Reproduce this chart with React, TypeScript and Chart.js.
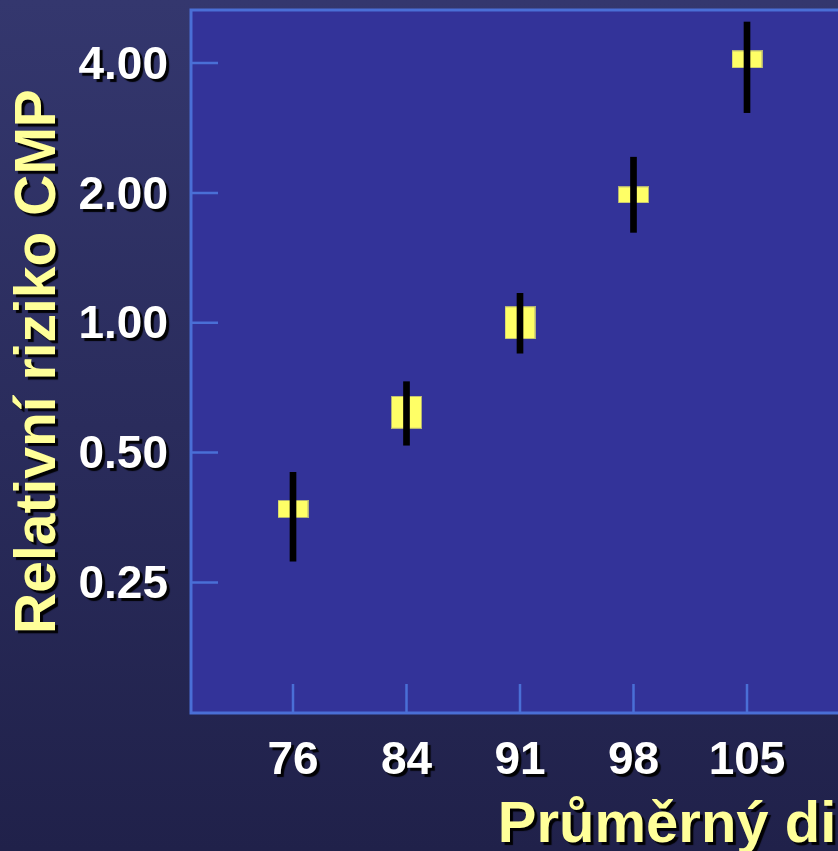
import React, { useEffect, useRef } from 'react';
import { Chart, registerables } from 'chart.js';

Chart.register(...registerables);

// ---- data ----
const categories = ['76', '84', '91', '98', '105'];
const relativeRisk = [0.37, 0.62, 1.0, 1.98, 4.08];
const ciLower = [0.28, 0.52, 0.85, 1.62, 3.07];
const ciUpper = [0.45, 0.73, 1.17, 2.42, 4.98];
const yTickValues = [0.25, 0.5, 1, 2, 4];
const yTickLabels = ['0.25', '0.50', '1.00', '2.00', '4.00'];
const yTitle = 'Relativní riziko CMP';
const xTitle = 'Průměrný diastolický TK (mmHg)';

// ---- styling / layout ----
const FONT = '"Liberation Sans", Arial, Helvetica, sans-serif';
const H = 851;
const PLOT_LEFT = 191;
const PLOT_TOP = 10;
const PLOT_BOTTOM = 713;
const FIRST_SLOT_OFFSET = 102; // px from plot left to first category
const SLOT = 113.5; // px per category step
const X_TITLE_START = 498;
const X_TITLE_SIZE = 58;
const Y_TITLE_SIZE = 57;
const TICK_SIZE = 46;
const boxHeights = [18, 33, 33, 17, 18];
const BOX_WIDTH = 31;
const Y_MIN = 0.1245;
const Y_MAX = 5.31;

function makeBox(h: number): HTMLCanvasElement {
  const c = document.createElement('canvas');
  c.width = BOX_WIDTH;
  c.height = h;
  const g = c.getContext('2d')!;
  g.fillStyle = '#FFFF66';
  g.fillRect(0, 0, BOX_WIDTH, h);
  g.strokeStyle = 'rgba(170,170,120,0.9)';
  g.lineWidth = 1;
  g.strokeRect(0.5, 0.5, BOX_WIDTH - 1, h - 1);
  return c;
}

const framePlugin = {
  id: 'frame',
  beforeDraw(chart: any) {
    const { ctx, chartArea: a } = chart;
    ctx.save();
    ctx.fillStyle = '#333399';
    ctx.fillRect(a.left, a.top, a.right - a.left, a.bottom - a.top);
    ctx.restore();
    ctx.save();
    ctx.shadowColor = 'rgba(0,0,0,0.95)';
    ctx.shadowOffsetX = 3;
    ctx.shadowOffsetY = 3;
    ctx.shadowBlur = 1;
  },
  beforeDatasetsDraw(chart: any) {
    const { ctx, chartArea: a, scales } = chart;
    ctx.restore();
    ctx.save();
    ctx.strokeStyle = '#4a6fd6';
    ctx.lineWidth = 3;
    ctx.beginPath();
    ctx.moveTo(a.right, a.top);
    ctx.lineTo(a.left, a.top);
    ctx.lineTo(a.left, a.bottom);
    ctx.lineTo(a.right, a.bottom);
    ctx.stroke();
    ctx.lineWidth = 2.5;
    ctx.beginPath();
    scales.y.ticks.forEach((t: any) => {
      const y = scales.y.getPixelForValue(t.value);
      ctx.moveTo(a.left, y);
      ctx.lineTo(a.left + 27, y);
    });
    scales.x.ticks.forEach((t: any) => {
      const x = scales.x.getPixelForValue(t.value);
      ctx.moveTo(x, a.bottom);
      ctx.lineTo(x, a.bottom - 29);
    });
    ctx.stroke();
    ctx.restore();
  },
};

export default function App() {
  const ref = useRef<HTMLCanvasElement>(null);

  useEffect(() => {
    const canvas = ref.current!;
    const mctx = document.createElement('canvas').getContext('2d')!;
    mctx.font = `bold ${X_TITLE_SIZE}px ${FONT}`;
    const tw = mctx.measureText(xTitle).width;
    const plotRight = Math.round(2 * (X_TITLE_START + tw / 2) - PLOT_LEFT);
    const W = plotRight + 10;
    canvas.width = W;
    canvas.height = H;
    canvas.style.width = W + 'px';
    canvas.style.height = H + 'px';

    const xMin = -FIRST_SLOT_OFFSET / SLOT;
    const xMax = xMin + (plotRight - PLOT_LEFT) / SLOT;

    Chart.defaults.font.family = FONT;

    const boxes = boxHeights.map(makeBox);

    const chart = new Chart(canvas, {
      type: 'bar',
      data: {
        datasets: [
          {
            type: 'bar',
            label: 'CI',
            data: categories.map((_, i) => ({ x: i, y: [ciLower[i], ciUpper[i]] })) as any,
            backgroundColor: '#000000',
            barThickness: 6,
            grouped: false,
            order: 0,
          } as any,
          {
            type: 'scatter',
            label: 'RR',
            data: categories.map((_, i) => ({ x: i, y: relativeRisk[i] })),
            pointStyle: boxes as any,
            pointRadius: 16,
            showLine: false,
            order: 1,
          } as any,
        ],
      },
      options: {
        responsive: false,
        animation: false,
        events: [],
        layout: {
          autoPadding: false,
          padding: { top: PLOT_TOP, right: W - plotRight, left: 0, bottom: 0 },
        },
        plugins: { legend: { display: false }, tooltip: { enabled: false } },
        scales: {
          x: {
            type: 'linear',
            min: xMin,
            max: xMax,
            offset: false,
            grid: { display: false, drawTicks: false },
            border: { display: false },
            afterFit: (s: any) => {
              s.height = H - PLOT_BOTTOM;
              s.paddingLeft = 0;
              s.paddingRight = 0;
            },
            afterBuildTicks: (s: any) => {
              s.ticks = categories.map((_, i) => ({ value: i }));
            },
            ticks: {
              callback: (v: any) => categories[v] ?? '',
              color: '#ffffff',
              font: { size: TICK_SIZE, weight: 'bold' },
              padding: 21,
              maxRotation: 0,
              autoSkip: false,
            },
            title: {
              display: true,
              text: xTitle,
              color: '#FFFF99',
              font: { size: X_TITLE_SIZE, weight: 'bold', lineHeight: 0.8 },
              padding: { top: 0, bottom: 2 },
            },
          } as any,
          y: {
            type: 'logarithmic',
            min: Y_MIN,
            max: Y_MAX,
            grid: { display: false, drawTicks: false },
            border: { display: false },
            afterFit: (s: any) => {
              s.width = PLOT_LEFT;
              s.paddingTop = 0;
              s.paddingBottom = 0;
            },
            afterBuildTicks: (s: any) => {
              s.ticks = yTickValues.map((v) => ({ value: v }));
            },
            ticks: {
              callback: (_v: any, i: number) => yTickLabels[i],
              color: '#ffffff',
              font: { size: TICK_SIZE, weight: 'bold' },
              padding: 23,
              labelOffset: 3,
              autoSkip: false,
            },
            title: {
              display: true,
              text: yTitle,
              color: '#FFFF99',
              font: { size: Y_TITLE_SIZE, weight: 'bold' },
              padding: { top: 5, bottom: 0 },
            },
          } as any,
        },
      },
      plugins: [framePlugin],
    });

    return () => chart.destroy();
  }, []);

  return (
    <div
      style={{
        position: 'fixed',
        left: 0,
        top: 0,
        width: 838,
        height: 851,
        overflow: 'hidden',
        background: 'linear-gradient(180deg, #34376e 0%, #2a2c5c 50%, #20214a 100%)',
      }}
    >
      <canvas ref={ref} style={{ display: 'block' }} />
    </div>
  );
}
